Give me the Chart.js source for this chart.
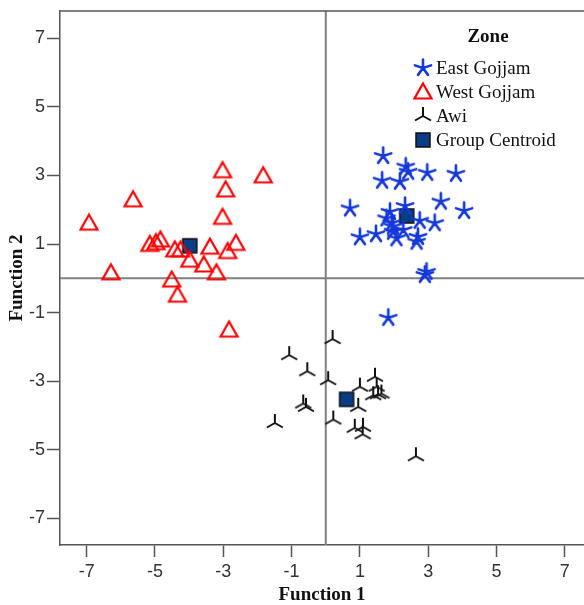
<!DOCTYPE html>
<html>
<head>
<meta charset="utf-8">
<script src="https://cdn.jsdelivr.net/npm/chart.js@4/dist/chart.umd.min.js"></script>
<style>
    html, body { margin: 0; padding: 0; background: #fff; }
    #wrap { width: 584px; height: 605px; }
</style>
</head>
<body>
<div id="wrap"><canvas id="chart" width="584" height="605"></canvas></div>
<script>
// 刻度
const xTicks = [-7, -5, -3, -1, 1, 3, 5, 7];
const yTicks = [7, 5, 3, 1, -1, -3, -5, -7];
const zoneTitle = 'Zone';
const zoneLabels = ['East Gojjam', 'West Gojjam', 'Awi', 'Group Centroid'];
const axisTitles = ['Function 1', 'Function 2'];

// 各区的判别得分 (Function 1, Function 2)
const eastGojjam = [
    [1.68, 3.57], [2.34, 3.26], [2.41, 3.11], [2.17, 2.82], [2.97, 3.08],
    [3.81, 3.05], [1.65, 2.85], [0.71, 2.04], [3.37, 2.24], [4.05, 1.97],
    [1.88, 1.94], [2.32, 2.11], [1.78, 1.75], [1.93, 1.61], [2.75, 1.68],
    [3.19, 1.61], [1.00, 1.20], [1.47, 1.29], [2.07, 1.17], [1.97, 1.36],
    [2.66, 1.07], [2.70, 1.21], [2.90, 0.10], [2.95, 0.19], [1.83, -1.15],
    [2.27, 1.41], [1.97, 1.51]
];
const westGojjam = [
    [-6.93, 1.61], [-5.64, 2.29], [-3.02, 3.14], [-1.83, 2.99], [-2.93, 2.58],
    [-3.02, 1.78], [-6.29, 0.16], [-5.15, 0.99], [-4.97, 1.04], [-4.84, 1.12],
    [-4.42, 0.83], [-4.25, 0.83], [-3.98, 0.53], [-3.39, 0.91], [-3.57, 0.39],
    [-3.20, 0.16], [-2.87, 0.78], [-2.63, 1.02], [-4.51, -0.05], [-4.34, -0.49],
    [-2.83, -1.51]
];
const awi = [
    [0.20, -1.77], [-1.07, -2.24], [-0.54, -2.71], [0.07, -2.97], [1.44, -2.87],
    [1.49, -3.16], [1.00, -3.16], [1.53, -3.38], [1.39, -3.41], [1.63, -3.36],
    [-0.66, -3.65], [-0.58, -3.75], [0.95, -3.75], [0.22, -4.12], [-1.49, -4.22],
    [1.09, -4.33], [0.85, -4.36], [1.08, -4.55], [2.64, -5.19]
];
const centroids = [[2.37, 1.82], [-3.98, 0.95], [0.61, -3.53]];

const toPoints = arr => arr.map(p => ({ x: p[0], y: p[1] }));

// 画点的符号
function markerCanvas(size, draw) {
    const c = document.createElement('canvas');
    c.width = size;
    c.height = size;
    const g = c.getContext('2d');
    g.translate(size / 2, size / 2);
    draw(g);
    return c;
}

const starMark = markerCanvas(22, g => {
    g.strokeStyle = '#1438dc';
    g.lineWidth = 2.6;
    g.lineCap = 'round';
    g.beginPath();
    for (let i = 0; i < 5; i++) {
        const a = -Math.PI / 2 + i * 2 * Math.PI / 5;
        g.moveTo(0, 0);
        g.lineTo(8.5 * Math.cos(a), 8.5 * Math.sin(a));
    }
    g.stroke();
});

const triMark = markerCanvas(24, g => {
    g.strokeStyle = '#ff0000';
    g.lineWidth = 2.2;
    g.lineJoin = 'miter';
    g.beginPath();
    g.moveTo(0, -8.5);
    g.lineTo(8.5, 6.5);
    g.lineTo(-8.5, 6.5);
    g.closePath();
    g.stroke();
});

const awiMark = markerCanvas(22, g => {
    g.strokeStyle = '#111';
    g.lineWidth = 2;
    g.beginPath();
    g.moveTo(0, 0); g.lineTo(0, -9);
    g.moveTo(0, 0); g.lineTo(-8, 4.5);
    g.moveTo(0, 0); g.lineTo(8, 4.5);
    g.stroke();
});

const squareMark = markerCanvas(18, g => {
    g.fillStyle = '#0b3d87';
    g.strokeStyle = '#111';
    g.lineWidth = 1.5;
    g.fillRect(-7, -7, 14, 14);
    g.strokeRect(-7, -7, 14, 14);
});

const legendMarks = [starMark, triMark, awiMark, squareMark];

// 零线、上边框和图例
const zonePlugin = {
    id: 'zonePlugin',
    beforeDatasetsDraw(chart) {
        const { ctx, chartArea: a, scales: { x, y } } = chart;
        const x0 = x.getPixelForValue(0);
        const y0 = y.getPixelForValue(0);
        ctx.save();
        ctx.strokeStyle = '#808080';
        ctx.lineWidth = 2;
        ctx.beginPath();
        ctx.moveTo(x0, a.top); ctx.lineTo(x0, a.bottom);
        ctx.moveTo(a.left, y0); ctx.lineTo(a.right, y0);
        ctx.stroke();
        ctx.strokeStyle = '#555';
        ctx.lineWidth = 1.5;
        ctx.beginPath();
        ctx.moveTo(a.left, a.top); ctx.lineTo(a.right, a.top);
        ctx.stroke();
        ctx.restore();
    },
    afterDraw(chart) {
        const ctx = chart.ctx;
        ctx.save();
        ctx.fillStyle = '#111';
        ctx.textBaseline = 'middle';
        ctx.textAlign = 'center';
        ctx.font = 'bold 19px "Liberation Serif"';
        ctx.fillText(zoneTitle, 488, 37);
        ctx.textAlign = 'left';
        ctx.font = '19px "Liberation Serif"';
        zoneLabels.forEach((label, i) => {
            const cy = 68 + i * 24;
            const m = legendMarks[i];
            ctx.drawImage(m, 423 - m.width / 2, cy - m.height / 2);
            ctx.fillText(label, 436, cy + 1);
        });
        ctx.restore();
    }
};

new Chart(document.getElementById('chart'), {
    type: 'scatter',
    data: {
        datasets: [
            {
                label: zoneLabels[1],
                data: toPoints(westGojjam),
                pointStyle: triMark,
                pointRadius: 10
            },
            {
                label: zoneLabels[0],
                data: toPoints(eastGojjam),
                pointStyle: starMark,
                pointRadius: 10
            },
            {
                label: zoneLabels[2],
                data: toPoints(awi),
                pointStyle: awiMark,
                pointRadius: 10
            },
            {
                label: zoneLabels[3],
                data: toPoints(centroids),
                pointStyle: squareMark,
                pointRadius: 8
            }
        ]
    },
    options: {
        responsive: false,
        animation: false,
        events: [],
        devicePixelRatio: 1,
        layout: {
            autoPadding: false,
            padding: { top: 11, right: 0, bottom: 0, left: 0 }
        },
        plugins: {
            legend: { display: false },
            tooltip: { enabled: false }
        },
        scales: {
            x: {
                type: 'linear',
                min: -7.78,
                max: 7.56,
                afterBuildTicks: s => { s.ticks = xTicks.map(v => ({ value: v })); },
                afterFit: s => {
                    s.height = 60;
                    s.paddingLeft = 0;
                    s.paddingRight = 0;
                },
                grid: {
                    drawOnChartArea: false,
                    drawTicks: true,
                    tickLength: 12,
                    tickColor: '#555',
                    tickWidth: 1.5
                },
                border: { display: true, color: '#555', width: 1.5 },
                ticks: {
                    autoSkip: false,
                    maxRotation: 0,
                    padding: 4,
                    color: '#333',
                    font: { family: 'Liberation Sans', size: 18 }
                },
                title: {
                    display: true,
                    text: axisTitles[0],
                    color: '#111',
                    padding: { top: 0, bottom: 0 },
                    font: { family: 'Liberation Serif', size: 19, weight: 'bold', lineHeight: 1 }
                }
            },
            y: {
                type: 'linear',
                min: -7.78,
                max: 7.8,
                afterBuildTicks: s => { s.ticks = yTicks.map(v => ({ value: v })); },
                afterFit: s => {
                    s.width = 60;
                    s.paddingTop = 0;
                    s.paddingBottom = 0;
                },
                grid: {
                    drawOnChartArea: false,
                    drawTicks: true,
                    tickLength: 13,
                    tickColor: '#555',
                    tickWidth: 1.5
                },
                border: { display: true, color: '#555', width: 1.5 },
                ticks: {
                    autoSkip: false,
                    padding: 2,
                    color: '#333',
                    font: { family: 'Liberation Sans', size: 18 }
                },
                title: {
                    display: true,
                    text: axisTitles[1],
                    color: '#111',
                    padding: { top: 8, bottom: 0 },
                    font: { family: 'Liberation Serif', size: 19, weight: 'bold', lineHeight: 1 }
                }
            }
        }
    },
    plugins: [zonePlugin]
});
</script>
</body>
</html>
